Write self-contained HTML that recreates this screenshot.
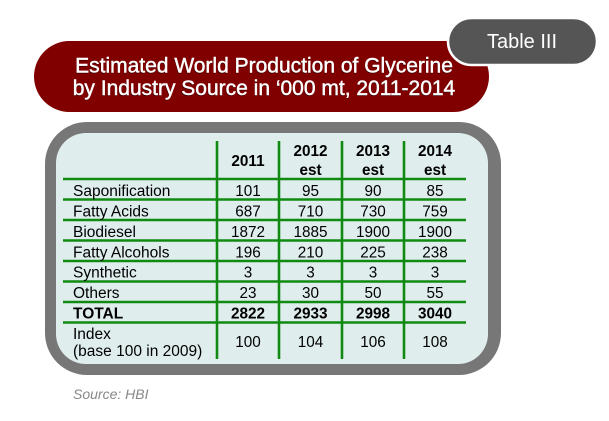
<!DOCTYPE html>
<html><head><meta charset="utf-8"><style>
html,body{margin:0;padding:0;background:#fff;}
svg{display:block;}
text{font-family:"Liberation Sans",Arial,sans-serif;}
</style></head><body>
<svg width="609" height="421" viewBox="0 0 609 421" xmlns="http://www.w3.org/2000/svg">
<rect x="0" y="0" width="609" height="421" fill="#fff"/>
<!-- red title pill -->
<rect x="34" y="41" width="455" height="71" rx="35.5" ry="35.5" fill="#800000"/>
<g font-size="21" text-anchor="middle">
<text x="263.5" y="73.5" fill="#2a0000" opacity="0.8">Estimated World Production of Glycerine</text>
<text x="263.5" y="96" fill="#2a0000" opacity="0.8">by Industry Source in ‘000 mt, 2011-2014</text>
<text x="264" y="72.5" fill="#fff" stroke="#fff" stroke-width="0.45">Estimated World Production of Glycerine</text>
<text x="264" y="95" fill="#fff" stroke="#fff" stroke-width="0.45">by Industry Source in ‘000 mt, 2011-2014</text>
</g>
<!-- Table III pill -->
<rect x="448" y="18" width="149" height="47" rx="23.5" ry="23.5" fill="#555" stroke="#fff" stroke-width="2.5"/>
<text x="522" y="48" font-size="20" fill="#fff" text-anchor="middle">Table III</text>
<!-- gray frame -->
<rect x="45" y="122" width="456" height="253" rx="42" ry="42" fill="#777"/>
<rect x="56" y="133" width="432" height="231" rx="30" ry="30" fill="#dfeeed"/>
<!-- grid -->
<g stroke="#118a11" stroke-width="2.6">
<line x1="63" y1="179" x2="466" y2="179"/>
<line x1="63" y1="199.5" x2="466" y2="199.5"/>
<line x1="63" y1="220" x2="466" y2="220"/>
<line x1="63" y1="240.5" x2="466" y2="240.5"/>
<line x1="63" y1="261" x2="466" y2="261"/>
<line x1="63" y1="281.5" x2="466" y2="281.5"/>
<line x1="63" y1="302" x2="466" y2="302"/>
<line x1="63" y1="322.5" x2="466" y2="322.5"/>
<line x1="217" y1="141" x2="217" y2="359"/>
<line x1="279" y1="141" x2="279" y2="359"/>
<line x1="342" y1="141" x2="342" y2="359"/>
<line x1="404" y1="141" x2="404" y2="359"/>
</g>
<!-- header -->
<g font-size="15.3" font-weight="bold" fill="#000" text-anchor="middle">
<text x="248" y="166">2011</text>
<text x="310.5" y="156">2012</text><text x="310.5" y="175">est</text>
<text x="373" y="156">2013</text><text x="373" y="175">est</text>
<text x="435" y="156">2014</text><text x="435" y="175">est</text>
</g>
<!-- labels -->
<g font-size="15.5" fill="#000">
<text x="73" y="196">Saponification</text>
<text x="73" y="216.5">Fatty Acids</text>
<text x="73" y="237">Biodiesel</text>
<text x="73" y="257.5">Fatty Alcohols</text>
<text x="73" y="277.5">Synthetic</text>
<text x="73" y="298">Others</text>
<text x="73" y="318.5" font-weight="bold">TOTAL</text>
<text x="73" y="339">Index</text>
<text x="73" y="356">(base 100 in 2009)</text>
</g>
<!-- data -->
<g font-size="15.3" fill="#000" text-anchor="middle">
<text x="248" y="196">101</text><text x="310.5" y="196">95</text><text x="373" y="196">90</text><text x="435" y="196">85</text>
<text x="248" y="216.5">687</text><text x="310.5" y="216.5">710</text><text x="373" y="216.5">730</text><text x="435" y="216.5">759</text>
<text x="248" y="237">1872</text><text x="310.5" y="237">1885</text><text x="373" y="237">1900</text><text x="435" y="237">1900</text>
<text x="248" y="257.5">196</text><text x="310.5" y="257.5">210</text><text x="373" y="257.5">225</text><text x="435" y="257.5">238</text>
<text x="248" y="277.5">3</text><text x="310.5" y="277.5">3</text><text x="373" y="277.5">3</text><text x="435" y="277.5">3</text>
<text x="248" y="298">23</text><text x="310.5" y="298">30</text><text x="373" y="298">50</text><text x="435" y="298">55</text>
<g font-weight="bold">
<text x="248" y="318.5">2822</text><text x="310.5" y="318.5">2933</text><text x="373" y="318.5">2998</text><text x="435" y="318.5">3040</text>
</g>
<text x="248" y="347">100</text><text x="310.5" y="347">104</text><text x="373" y="347">106</text><text x="435" y="347">108</text>
</g>
<text x="73" y="399" font-size="14" font-style="italic" fill="#888">Source: HBI</text>
</svg>
</body></html>
